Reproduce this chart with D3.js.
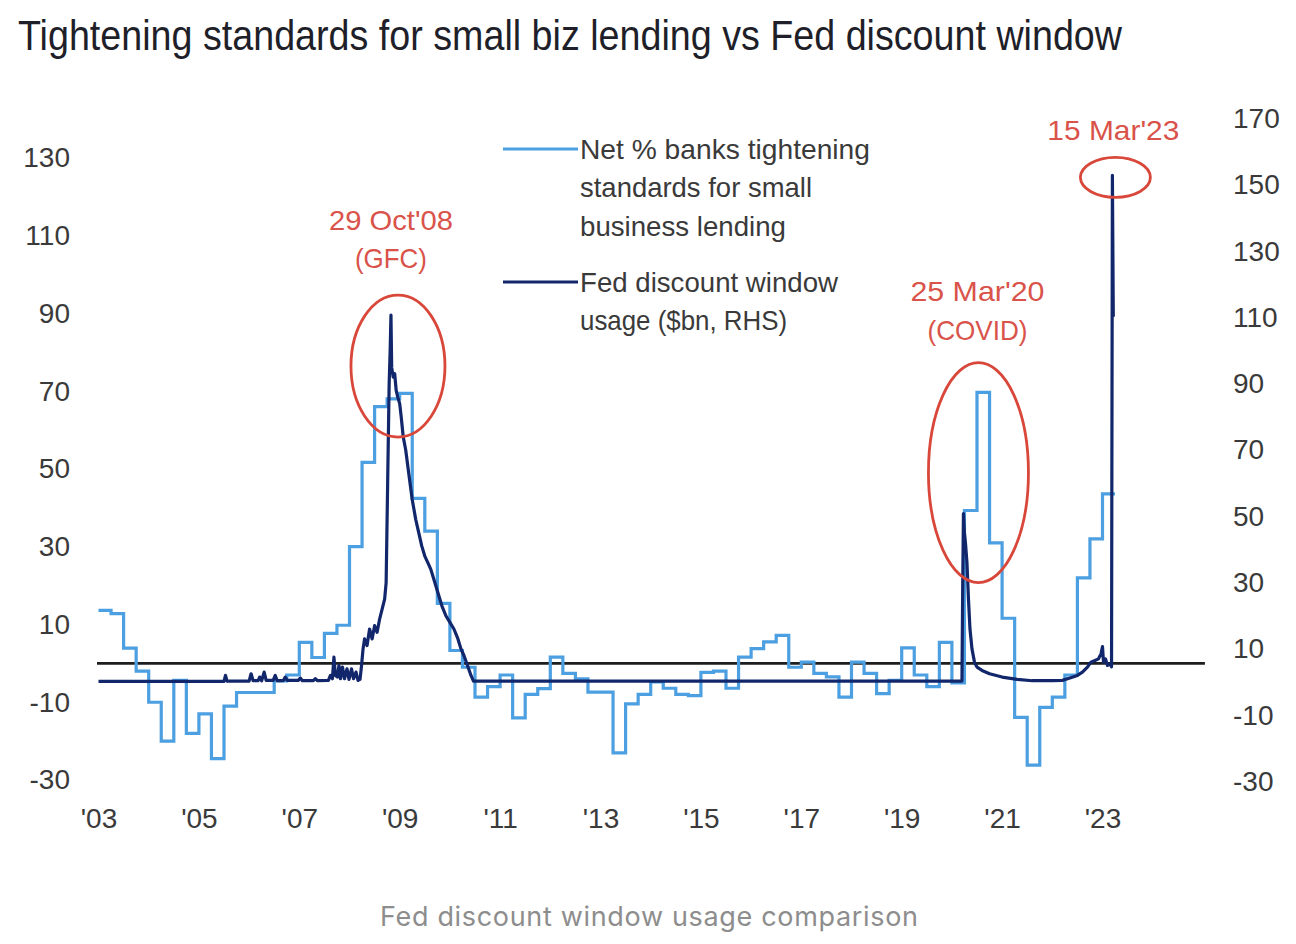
<!DOCTYPE html>
<html>
<head>
<meta charset="utf-8">
<script src="https://cdn.jsdelivr.net/npm/d3@7"></script>
<style>
  html, body { margin: 0; padding: 0; background: #ffffff; }
  svg { display: block; }
</style>
</head>
<body>
<svg id="chart" width="1296" height="944"></svg>
<script>
// ---------------- DATA ----------------
// Net % of banks tightening standards for small business lending (quarterly, LHS)
const sloosQuarters = [
  "2003Q1","2003Q2","2003Q3","2003Q4","2004Q1","2004Q2","2004Q3","2004Q4",
  "2005Q1","2005Q2","2005Q3","2005Q4","2006Q1","2006Q2","2006Q3","2006Q4",
  "2007Q1","2007Q2","2007Q3","2007Q4","2008Q1","2008Q2","2008Q3","2008Q4",
  "2009Q1","2009Q2","2009Q3","2009Q4","2010Q1","2010Q2","2010Q3","2010Q4",
  "2011Q1","2011Q2","2011Q3","2011Q4","2012Q1","2012Q2","2012Q3","2012Q4",
  "2013Q1","2013Q2","2013Q3","2013Q4","2014Q1","2014Q2","2014Q3","2014Q4",
  "2015Q1","2015Q2","2015Q3","2015Q4","2016Q1","2016Q2","2016Q3","2016Q4",
  "2017Q1","2017Q2","2017Q3","2017Q4","2018Q1","2018Q2","2018Q3","2018Q4",
  "2019Q1","2019Q2","2019Q3","2019Q4","2020Q1","2020Q2","2020Q3","2020Q4",
  "2021Q1","2021Q2","2021Q3","2021Q4","2022Q1","2022Q2","2022Q3","2022Q4",
  "2023Q1"
];
const sloosValues = [
  13.6, 12.8, 3.9, -2, -10, -20, -4.4, -18,
  -13, -24.5, -11, -7.5, -7.5, -7.5, -4.5, -3,
  5.4, 1.5, 7.7, 9.8, 30, 51.7, 66, 68,
  69.4, 42.4, 34, 15.4, 3.3, -1, -8.7, -6,
  -3, -14, -8, -6.5, 1.6, -2.6, -4, -7.4,
  -7.4, -23, -10.4, -8, -4.8, -6.4, -8, -8.3,
  -2.3, -2, -6.4, 1.6, 3.8, 5.5, 7.2, -1,
  0.3, -2.6, -3.5, -8.7, 0.3, -2.6, -7.8, -4.4,
  4, -3, -6, 5.4, -5, 39.3, 69.7, 31,
  11.6, -13.9, -26.2, -11.3, -8.7, -3, 22, 32,
  43.6
];
const sloosEnd = 2023.25; // last quarter runs until this date

// Fed discount window usage ($bn, RHS), weekly-ish decimal-year dates
const fedDates = [
  2003.00, 2005.50, 2005.53, 2005.56, 2006.00, 2006.04, 2006.08, 2006.18, 2006.21, 2006.25,
  2006.30, 2006.34, 2006.48, 2006.52, 2006.56, 2006.68, 2006.72, 2006.76, 2006.98, 2007.02,
  2007.06, 2007.28, 2007.32, 2007.36, 2007.58, 2007.62, 2007.66, 2007.69, 2007.72, 2007.76,
  2007.79, 2007.82, 2007.86, 2007.90, 2007.95, 2007.99, 2008.04, 2008.08, 2008.13, 2008.17,
  2008.21, 2008.24, 2008.27, 2008.30, 2008.35, 2008.40, 2008.45, 2008.50, 2008.55, 2008.60,
  2008.65, 2008.70, 2008.73, 2008.76, 2008.79, 2008.81, 2008.826, 2008.84, 2008.87, 2008.90,
  2008.93, 2008.96, 2009.00, 2009.03, 2009.07, 2009.12, 2009.18, 2009.25, 2009.32, 2009.38,
  2009.44, 2009.50, 2009.56, 2009.62, 2009.68, 2009.76, 2009.84, 2009.92, 2010.00, 2010.08,
  2010.16, 2010.22, 2010.28, 2010.35, 2010.42, 2010.47, 2020.20, 2020.215, 2020.23, 2020.25,
  2020.27, 2020.30, 2020.33, 2020.36, 2020.40, 2020.45, 2020.50, 2020.60, 2020.75, 2021.00,
  2021.30, 2021.60, 2022.00, 2022.20, 2022.35, 2022.50, 2022.60, 2022.70, 2022.77, 2022.85,
  2022.92, 2022.97, 2023.00, 2023.02, 2023.06, 2023.10, 2023.15, 2023.18, 2023.197, 2023.215
];
const fedValues = [
  0.2, 0.2, 2, 0.3, 0.3, 2.5, 0.4, 0.4, 1.5, 0.4,
  3, 0.5, 0.5, 2, 0.4, 0.4, 1.5, 0.5, 0.5, 1.2,
  0.4, 0.4, 1, 0.4, 0.5, 2, 1, 7.5, 2, 1.5,
  5, 1, 4.5, 1, 4, 0.8, 4, 1, 3, 0.5,
  0.8, 5, 10, 13, 11, 16, 13, 17, 15, 19,
  22, 25, 30, 60, 90, 100, 110.7, 95, 92, 93,
  88, 86, 84, 80, 74, 70, 63, 55, 49, 45,
  41, 38, 36, 34, 31, 27, 23, 20, 18, 16,
  13, 10, 8, 5, 2, 0.3, 0.3, 28, 50.8, 45,
  42, 36, 25, 16, 10, 6, 4.5, 3.5, 2.5, 1.5,
  0.8, 0.4, 0.4, 0.5, 1.2, 2, 3, 4.5, 6, 6.5,
  7, 8.5, 10.7, 6, 7, 5, 5.5, 4.6, 152.85, 110.2
];

// Axis ticks
const xTickYears  = [2003, 2005, 2007, 2009, 2011, 2013, 2015, 2017, 2019, 2021, 2023];
const xTickLabels = ["'03", "'05", "'07", "'09", "'11", "'13", "'15", "'17", "'19", "'21", "'23"];
const leftTicks   = [-30, -10, 10, 30, 50, 70, 90, 110, 130];
const rightTicks  = [-30, -10, 10, 30, 50, 70, 90, 110, 130, 150, 170];

// Text
const titleText   = "Tightening standards for small biz lending vs Fed discount window";
const captionText = "Fed discount window usage comparison";
const legendLines = [
  ["Net % banks tightening", "standards for small", "business lending"],
  ["Fed discount window", "usage ($bn, RHS)"]
];
// Annotated peaks of the Fed series
const annotationDates  = [2008.826, 2020.23, 2023.197];
const annotationLabels = [["29 Oct'08", "(GFC)"], ["25 Mar'20", "(COVID)"], ["15 Mar'23"]];

// ---------------- STYLE / LAYOUT ----------------
const C = {
  light: "#4c9fe0",
  navy: "#12276b",
  zero: "#1e1e1e",
  red: "#d8473a",
  redText: "#d9534a",
  text: "#3a3a3a",
  title: "#1f1f2a",
  caption: "#8d8d8d"
};
const FONT = "'Liberation Sans', Arial, sans-serif";

const svg = d3.select("#chart");

const x  = d3.scaleLinear().domain([2003, 2025]).range([98.5, 1202.9]);
const yL = d3.scaleLinear().domain([-30, 130]).range([780, 157.8]);
const yR = d3.scaleLinear().domain([-30, 170]).range([781.5, 118.5]);

// Title
svg.append("text")
  .attr("x", 18).attr("y", 50)
  .attr("font-family", FONT).attr("font-size", 42)
  .attr("fill", C.title)
  .attr("textLength", 1104).attr("lengthAdjust", "spacingAndGlyphs")
  .text(titleText);

// Axes (library axes, no domain lines / tick marks)
function styleAxis(g) {
  g.select(".domain").remove();
  g.selectAll(".tick line").remove();
  g.selectAll(".tick text")
    .attr("font-family", FONT).attr("font-size", 28)
    .attr("fill", C.text);
}
const plainNum = d => String(d);

svg.append("g")
  .attr("transform", "translate(0,808)")
  .call(d3.axisBottom(x).tickValues(xTickYears).tickSize(0).tickPadding(0)
        .tickFormat((d, i) => xTickLabels[i]))
  .call(styleAxis)
  .call(g => g.selectAll(".tick text").attr("dy", "0.71em"));

svg.append("g")
  .attr("transform", "translate(70,0)")
  .call(d3.axisLeft(yL).tickValues(leftTicks).tickSize(0).tickPadding(0).tickFormat(plainNum))
  .call(styleAxis);

svg.append("g")
  .attr("transform", "translate(1233,0)")
  .call(d3.axisRight(yR).tickValues(rightTicks).tickSize(0).tickPadding(0).tickFormat(plainNum))
  .call(styleAxis);

// Zero line (LHS)
svg.append("line")
  .attr("x1", x(2002.97)).attr("x2", x(2025.04))
  .attr("y1", yL(0)).attr("y2", yL(0))
  .attr("stroke", C.zero).attr("stroke-width", 2.6);

// Series
const sloosData = sloosQuarters.map((q, i) => {
  const yr = +q.slice(0, 4), qn = +q.slice(5);
  return { t: yr + (qn - 1) / 4, v: sloosValues[i] };
});
sloosData.push({ t: sloosEnd, v: sloosValues[sloosValues.length - 1] });

const fedData = fedDates.map((t, i) => ({ t, v: fedValues[i] }));

svg.append("path")
  .datum(sloosData)
  .attr("fill", "none")
  .attr("stroke", C.light).attr("stroke-width", 3.2)
  .attr("stroke-linejoin", "miter")
  .attr("d", d3.line().x(d => x(d.t)).y(d => yL(d.v)).curve(d3.curveStepAfter));

svg.append("path")
  .datum(fedData)
  .attr("fill", "none")
  .attr("stroke", C.navy).attr("stroke-width", 3.2)
  .attr("stroke-linejoin", "round")
  .attr("d", d3.line().x(d => x(d.t)).y(d => yR(d.v)));

// Legend
const legendColors = [C.light, C.navy];
const legendTops = [149, 282];
const legendWidths = [[290, 232, 206], [258, 207]];
legendLines.forEach((lines, i) => {
  svg.append("line")
    .attr("x1", 503).attr("x2", 578)
    .attr("y1", legendTops[i]).attr("y2", legendTops[i])
    .attr("stroke", legendColors[i]).attr("stroke-width", 3.2);
  lines.forEach((ln, j) => {
    svg.append("text")
      .attr("x", 580).attr("y", legendTops[i] + j * 38.5)
      .attr("dy", "0.35em")
      .attr("font-family", FONT).attr("font-size", 28)
      .attr("fill", C.text)
      .attr("textLength", legendWidths[i][j]).attr("lengthAdjust", "spacingAndGlyphs")
      .text(ln);
  });
});

// Annotations: ellipses + red labels around the Fed peaks
const annLayout = [
  { dx: 7,  dy: 51,  rx: 47, ry: 71, tdx: 0,  tdy: -95, tw: [124, 72] },
  { dx: 15, dy: -41, rx: 50, ry: 110, tdx: 14, tdy: -222, tw: [134, 100] },
  { dx: 3,  dy: 2,   rx: 35, ry: 20, tdx: 1,  tdy: -45, tw: [132] }
];
annotationDates.forEach((t, i) => {
  const k = fedDates.indexOf(t);
  const px = x(t), py = yR(fedValues[k]);
  const L = annLayout[i];
  svg.append("ellipse")
    .attr("cx", px + L.dx).attr("cy", py + L.dy)
    .attr("rx", L.rx).attr("ry", L.ry)
    .attr("fill", "none").attr("stroke", C.red).attr("stroke-width", 2.8);
  annotationLabels[i].forEach((ln, j) => {
    svg.append("text")
      .attr("x", px + L.tdx).attr("y", py + L.tdy + j * 38.5)
      .attr("dy", "0.35em")
      .attr("text-anchor", "middle")
      .attr("font-family", FONT).attr("font-size", 28)
      .attr("fill", C.redText)
      .attr("textLength", L.tw[j]).attr("lengthAdjust", "spacingAndGlyphs")
      .text(ln);
  });
});

// Caption
svg.append("text")
  .attr("x", 649).attr("y", 917)
  .attr("dy", "0.35em")
  .attr("text-anchor", "middle")
  .attr("font-family", "Inter, 'Noto Sans', sans-serif").attr("font-size", 27)
  .attr("fill", C.caption)
  .attr("textLength", 538).attr("lengthAdjust", "spacing")
  .text(captionText);
</script>
</body>
</html>
